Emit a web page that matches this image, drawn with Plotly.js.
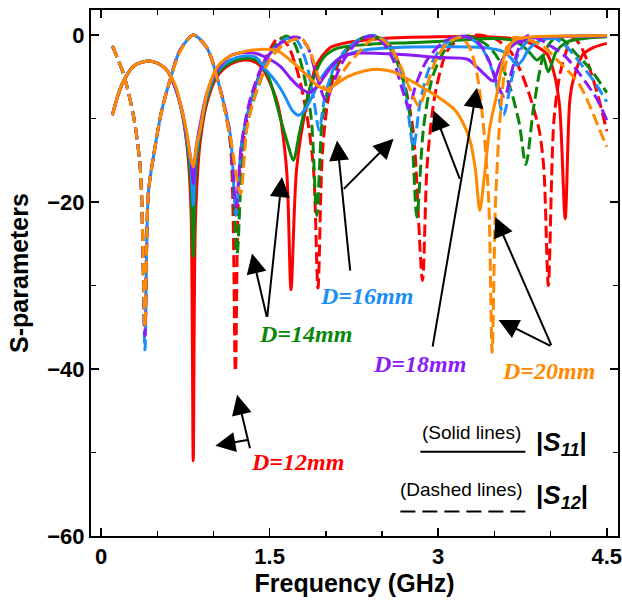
<!DOCTYPE html>
<html>
<head>
<meta charset="utf-8">
<script src="https://cdn.plot.ly/plotly-3.0.1.min.js"></script>
<style>html,body{margin:0;padding:0;background:#fff;}#chart{width:622px;height:601px;}</style>
</head>
<body>
<div id="chart"></div>
<script>
// ---- tick labels ----
var xTickVals = [0, 1.5, 3, 4.5];
var xTickText = ['0', '1.5', '3', '4.5'];
var yTickVals = [0, -20, -40, -60];
var yTickText = ['0', '\u221220', '\u221240', '\u221260'];

// ---- series names / colours ----
var seriesNames = ['D=12mm', 'D=14mm', 'D=16mm', 'D=18mm', 'D=20mm'];
var seriesColors = ['#FF0000', '#0A870A', '#1C8EF5', '#8A1CF8', '#FF8A00'];

// ---- D=12mm ----
var red_s11_x = [0.1,0.15,0.2,0.29,0.42,0.52,0.59,0.66,0.72,0.77,0.8,0.82,0.84,0.88,0.94,1.03,1.15,1.27,1.38,1.45,1.57,1.65,1.69,1.74,1.83,1.92,2.04,2.19,2.5,3.0,3.4,3.65,3.76,3.88,3.97,4.03,4.08,4.13,4.17,4.2,4.29,4.38,4.5];
var red_s11_y = [-9.6,-7.2,-5.5,-3.7,-3.1,-3.5,-4.3,-6.3,-9.3,-14,-21,-51,-22,-13,-8.2,-5.0,-3.5,-3.0,-3.3,-4.3,-8.2,-16,-30.5,-16,-8.2,-3.5,-1.5,-0.9,-0.4,-0.2,-0.2,-0.4,-0.7,-1.4,-2.3,-4.5,-8.5,-22,-8,-5.5,-2.3,-1.5,-1.0];
var red_s12_x = [0.1,0.2,0.29,0.35,0.39,0.42,0.47,0.54,0.62,0.7,0.82,0.94,1.06,1.15,1.195,1.23,1.3,1.4,1.5,1.58,1.66,1.75,1.83,1.89,1.93,1.97,2.03,2.12,2.25,2.38,2.5,2.6,2.66,2.72,2.78,2.86,2.9,2.95,2.99,3.08,3.2,3.35,3.5,3.64,3.73,3.82,3.9,3.94,3.98,4.03,4.09,4.18,4.22,4.29,4.41,4.5];
var red_s12_y = [-1.3,-4.7,-9.8,-16.2,-36,-19,-14.2,-9,-5.1,-1.9,0,-1.5,-6.5,-13,-40.3,-17,-10,-5,-1.8,-0.3,-1.2,-4.5,-9.5,-16,-30.3,-14,-7,-3.2,-1,-0.1,-0.5,-1.8,-3.9,-7,-11.8,-29.4,-15.8,-9,-5.9,-1.9,-0.4,0,-0.4,-1.9,-4.2,-7.5,-11.5,-16,-30,-10.2,-4.3,-0.7,-0.5,-1.9,-6.7,-11.5];

// ---- D=14mm ----
var green_s11_x = [0.1,0.15,0.2,0.29,0.42,0.52,0.59,0.66,0.72,0.77,0.8,0.82,0.84,0.88,0.94,1.03,1.15,1.27,1.38,1.48,1.6,1.66,1.71,1.77,1.86,1.98,2.1,2.4,2.8,3.2,3.5,3.65,3.75,3.82,3.88,3.93,3.98,4.05,4.15,4.3,4.5];
var green_s11_y = [-9.6,-7.2,-5.5,-3.7,-3.1,-3.5,-4.3,-6.3,-9.2,-13.5,-18,-26.5,-17,-12,-7.8,-4.7,-3.3,-2.8,-3.0,-4.7,-10.2,-13,-15,-11.4,-6.3,-2.7,-1.6,-1.1,-0.9,-0.6,-0.4,-0.6,-1.3,-2.2,-3.0,-2.5,-4.4,-2.0,-0.8,-0.4,-0.2];
var green_s12_x = [0.1,0.2,0.29,0.35,0.39,0.42,0.47,0.54,0.62,0.7,0.82,0.94,1.06,1.15,1.21,1.26,1.33,1.45,1.55,1.65,1.72,1.8,1.87,1.92,1.97,2.05,2.15,2.3,2.4,2.5,2.6,2.7,2.76,2.81,2.87,2.95,3.05,3.15,3.25,3.35,3.46,3.55,3.64,3.72,3.78,3.85,3.94,4.02,4.1,4.23,4.35,4.5];
var green_s12_y = [-1.3,-4.7,-9.8,-16.2,-35,-19,-14.2,-9,-5.1,-1.9,0,-1.5,-6.5,-12.5,-26.2,-14,-9,-4.3,-1.2,-0.1,-1,-4.5,-10,-21.6,-10,-5,-2.2,-0.5,-0.1,-0.6,-2.2,-6,-11,-21.8,-11,-5,-2,-0.6,-0.1,-0.5,-1.5,-3.2,-6.3,-10.5,-15.5,-8.6,-2.3,-0.6,-0.5,-2.3,-4.0,-6.9];

// ---- D=16mm ----
var blue_s11_x = [0.1,0.15,0.2,0.29,0.42,0.52,0.59,0.66,0.72,0.77,0.8,0.82,0.84,0.88,0.94,1.03,1.15,1.27,1.38,1.45,1.55,1.625,1.7,1.76,1.81,1.86,1.98,2.13,2.3,2.6,3.0,3.4,3.58,3.65,3.7,3.75,3.8,3.9,4.1,4.5];
var blue_s11_y = [-9.6,-7.2,-5.5,-3.7,-3.1,-3.5,-4.3,-6.3,-9.1,-13,-16,-20.4,-15,-11.5,-7.4,-4.4,-3.0,-2.5,-2.7,-3.9,-5.5,-7.05,-9.0,-9.6,-9.0,-7.85,-4.7,-2.7,-1.9,-1.5,-1.4,-1.5,-2.0,-2.8,-3.6,-3.0,-1.8,-0.7,-0.2,-0.1];
var blue_s12_x = [0.1,0.2,0.29,0.35,0.39,0.42,0.47,0.54,0.62,0.7,0.82,0.94,1.06,1.15,1.2,1.25,1.33,1.45,1.55,1.66,1.74,1.82,1.89,1.94,1.99,2.07,2.2,2.35,2.45,2.55,2.65,2.72,2.78,2.84,2.92,3.05,3.2,3.3,3.4,3.5,3.58,3.65,3.72,3.82,3.95,4.05,4.15,4.3,4.4,4.5];
var blue_s12_y = [-1.3,-4.7,-9.8,-16.2,-37.7,-19,-14.2,-9,-5.1,-1.9,0,-1.5,-6.5,-12,-21.6,-13,-8,-3.5,-1.4,-0.4,-0.6,-3,-7.5,-11.4,-7.5,-4,-1.5,-0.2,-0.1,-0.9,-3.5,-8,-13.4,-8,-4,-1.2,-0.2,-0.5,-1.8,-5,-9.6,-5.5,-2,-0.5,-0.2,-0.5,-1.5,-4,-5.8,-8];

// ---- D=18mm ----
var purple_s11_x = [0.1,0.15,0.2,0.29,0.42,0.52,0.59,0.66,0.72,0.77,0.8,0.82,0.84,0.88,0.94,1.03,1.15,1.27,1.38,1.5,1.6,1.68,1.77,1.85,1.92,1.98,2.06,2.13,2.25,2.48,2.75,2.99,3.26,3.35,3.42,3.49,3.55,3.64,3.75,3.85,4.1,4.5];
var purple_s11_y = [-9.6,-7.2,-5.5,-3.7,-3.1,-3.5,-4.3,-6.3,-9.0,-12.5,-15,-17.8,-14,-10.8,-7.0,-4.2,-2.5,-2.1,-2.2,-2.9,-3.8,-5.1,-6.3,-6.9,-6.2,-5.1,-3.6,-2.7,-2.2,-2.2,-2.4,-2.7,-2.9,-3.9,-4.8,-5.5,-3.5,-1.5,-0.6,-0.3,-0.15,-0.1];
var purple_s12_x = [0.1,0.2,0.29,0.35,0.39,0.42,0.47,0.54,0.62,0.7,0.82,0.94,1.06,1.15,1.2,1.25,1.33,1.45,1.55,1.67,1.76,1.84,1.92,2.0,2.06,2.15,2.27,2.4,2.5,2.6,2.68,2.74,2.8,2.9,3.05,3.2,3.35,3.45,3.53,3.59,3.65,3.72,3.79,3.9,4.0,4.12,4.25,4.41,4.5];
var purple_s12_y = [-1.3,-4.7,-9.8,-16.2,-36,-19,-14.2,-9,-5.1,-1.9,0,-1.5,-6.5,-12,-20.6,-13,-7.5,-3.2,-1.5,-0.4,-0.3,-1.5,-5,-7.8,-6,-3.2,-1,-0.1,-0.8,-3,-6.5,-8.7,-6,-3,-0.8,-0.1,-0.8,-3,-6,-7.4,-4.5,-1.5,-0.1,-0.5,-1.3,-2.4,-4.5,-7.6,-10.2];

// ---- D=20mm ----
var orange_s11_x = [0.1,0.15,0.2,0.29,0.42,0.52,0.59,0.66,0.705,0.76,0.79,0.82,0.85,0.88,0.94,1.03,1.15,1.24,1.35,1.45,1.57,1.7,1.83,1.92,2.01,2.1,2.19,2.34,2.45,2.6,2.69,2.8,2.95,3.05,3.15,3.22,3.28,3.33,3.37,3.41,3.46,3.52,3.57,3.61,3.7,3.85,4.2,4.5];
var orange_s11_y = [-9.6,-7.2,-5.5,-3.7,-3.1,-3.5,-4.3,-6.0,-8.2,-11.5,-14.2,-15.8,-13.2,-11.4,-7.05,-3.9,-2.5,-2.1,-1.8,-1.7,-1.9,-3.2,-4.8,-6.0,-6.5,-5.8,-5.0,-4.3,-4.1,-4.4,-5.0,-5.8,-7.0,-7.9,-9.0,-10.5,-12.5,-16,-21,-17,-11,-7.2,-3.5,-1.6,-0.5,-0.2,-0.1,-0.05];
var orange_s12_x = [0.1,0.2,0.29,0.35,0.39,0.42,0.47,0.54,0.62,0.705,0.82,0.94,1.06,1.15,1.24,1.3,1.4,1.5,1.6,1.7,1.79,1.86,1.95,2.03,2.1,2.2,2.28,2.38,2.47,2.56,2.65,2.75,2.83,2.9,2.98,3.08,3.2,3.28,3.35,3.41,3.45,3.48,3.51,3.55,3.6,3.67,3.75,3.85,3.95,4.06,4.17,4.26,4.35,4.42,4.5];
var orange_s12_y = [-1.3,-4.7,-9.8,-16.2,-35,-19,-14.2,-9,-5.1,-1.9,0,-1.5,-6.6,-12.2,-19,-11,-6,-3.0,-1.4,-0.6,-0.5,-2,-5.5,-6.8,-5.5,-3.5,-2.3,-0.8,-0.3,-1.2,-3.3,-6.5,-8.5,-6,-3,-1,-0.3,-1.5,-5,-12,-20,-38,-20,-10,-3.5,-0.3,-0.4,-0.8,-1.5,-3.0,-4.5,-6.0,-8.5,-10.8,-13.4];

var s11X = [red_s11_x, green_s11_x, blue_s11_x, purple_s11_x, orange_s11_x];
var s11Y = [red_s11_y, green_s11_y, blue_s11_y, purple_s11_y, orange_s11_y];
var s12X = [red_s12_x, green_s12_x, blue_s12_x, purple_s12_x, orange_s12_x];
var s12Y = [red_s12_y, green_s12_y, blue_s12_y, purple_s12_y, orange_s12_y];

var traces = [];
for (var i = 0; i < seriesNames.length; i++) {
  traces.push({
    type: 'scatter', mode: 'lines', name: seriesNames[i] + ' |S11|',
    x: s11X[i], y: s11Y[i],
    line: {color: seriesColors[i], width: 3, shape: 'spline', smoothing: 0.8},
    hoverinfo: 'skip'
  });
  traces.push({
    type: 'scatter', mode: 'lines', name: seriesNames[i] + ' |S12|',
    x: s12X[i], y: s12Y[i],
    line: {color: seriesColors[i], width: 3, dash: '12px,5px', shape: 'spline', smoothing: 0.8},
    hoverinfo: 'skip'
  });
}

function arrow(tx, ty, sx, sy) {
  return {x: tx, y: ty, ax: sx, ay: sy, xref: 'x', yref: 'y', axref: 'x', ayref: 'y',
    text: '', showarrow: true, arrowhead: 2, arrowsize: 2, arrowwidth: 2, arrowcolor: 'black'};
}
function label(txt, x, y, color) {
  return {x: x, y: y, xref: 'x', yref: 'y', showarrow: false, text: '<b><i>' + txt + '</i></b>',
    font: {family: 'Liberation Serif, Times New Roman, serif', size: 24, color: color}};
}

var annotations = [
  label(seriesNames[0], 1.751, -51.1, seriesColors[0]),
  label(seriesNames[1], 1.822, -35.75, seriesColors[1]),
  label(seriesNames[2], 2.365, -31.27, seriesColors[2]),
  label(seriesNames[3], 2.832, -39.39, seriesColors[3]),
  label(seriesNames[4], 3.98, -40.26, seriesColors[4]),
  arrow(1.21, -43.09, 1.328, -49.67),
  arrow(1.017, -49.19, 1.313, -48.47),
  arrow(1.343, -26.16, 1.477, -33.93),
  arrow(1.61, -17.01, 1.477, -33.93),
  arrow(2.1, -12.63, 2.218, -28.4),
  arrow(2.603, -12.43, 2.147, -18.6),
  arrow(3.345, -6.3, 2.948, -37.49),
  arrow(2.959, -9.04, 3.197, -17.4),
  arrow(3.508, -21.79, 4.012, -37.32),
  arrow(3.537, -34.13, 4.012, -37.32),
  {x: 3.294, y: -47.63, xref: 'x', yref: 'y', showarrow: false, text: '(Solid lines)',
   font: {family: 'Liberation Sans, Arial, sans-serif', size: 19, color: 'black'}},
  {x: 3.205, y: -54.45, xref: 'x', yref: 'y', showarrow: false, text: '(Dashed lines)',
   font: {family: 'Liberation Sans, Arial, sans-serif', size: 19, color: 'black'}},
  {x: 4.095, y: -48.95, xref: 'x', yref: 'y', showarrow: false, text: '<b>|<i>S</i><sub><i>11</i></sub>|</b>',
   font: {family: 'Liberation Sans, Arial, sans-serif', size: 26, color: 'black'}},
  {x: 4.104, y: -55.28, xref: 'x', yref: 'y', showarrow: false, text: '<b>|<i>S</i><sub><i>12</i></sub>|</b>',
   font: {family: 'Liberation Sans, Arial, sans-serif', size: 26, color: 'black'}}
];

var shapes = [
  {type: 'line', xref: 'x', yref: 'y', x0: 2.841, x1: 3.776, y0: -49.9, y1: -49.9, line: {color: 'black', width: 2}},
  {type: 'line', xref: 'x', yref: 'y', x0: 2.663, x1: 3.803, y0: -57.07, y1: -57.07, line: {color: 'black', width: 2, dash: '15px,7px'}}
];

var layout = {
  width: 622, height: 601,
  margin: {l: 91, r: 4, t: 10, b: 65, pad: 0},
  paper_bgcolor: '#ffffff', plot_bgcolor: '#ffffff',
  showlegend: false,
  font: {family: 'Liberation Sans, Arial, sans-serif', color: '#000'},
  xaxis: {
    range: [-0.09, 4.6], tickmode: 'array', tickvals: xTickVals, ticktext: xTickText,
    ticks: 'inside', ticklen: 8, tickwidth: 1.5, tickcolor: '#000',
    ticklabeloverflow: 'allow',
    minor: {tickmode: 'linear', tick0: 0, dtick: 0.5, ticks: 'inside', ticklen: 5, tickwidth: 1.5, tickcolor: '#000'},
    showline: true, linewidth: 2, linecolor: '#000', mirror: 'ticks',
    showgrid: false, zeroline: false,
    tickfont: {size: 22, weight: 'bold'},
    title: {text: '<b>Frequency (GHz)</b>', font: {size: 25}, standoff: 3}
  },
  yaxis: {
    range: [-60, 3], tickmode: 'array', tickvals: yTickVals, ticktext: yTickText,
    ticks: 'inside', ticklen: 8, tickwidth: 1.5, tickcolor: '#000',
    ticklabeloverflow: 'allow',
    minor: {tickmode: 'linear', tick0: 0, dtick: 10, ticks: 'inside', ticklen: 5, tickwidth: 1.5, tickcolor: '#000'},
    showline: true, linewidth: 2, linecolor: '#000', mirror: 'ticks',
    showgrid: false, zeroline: false,
    tickfont: {size: 22, weight: 'bold'},
    title: {text: '<b>S-parameters</b>', font: {size: 25}, standoff: 12}
  },
  annotations: annotations,
  shapes: shapes
};

Plotly.newPlot('chart', traces, layout, {displayModeBar: false, staticPlot: true});
</script>
</body>
</html>
